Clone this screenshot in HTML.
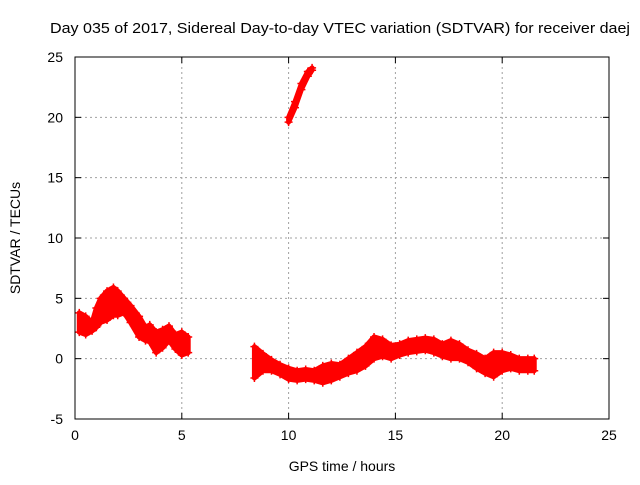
<!DOCTYPE html>
<html><head><meta charset="utf-8"><style>
body{margin:0;background:#fff}
svg text{font-family:"Liberation Sans",sans-serif;fill:#000}
</style></head><body>
<svg width="640" height="480" xmlns="http://www.w3.org/2000/svg">
<text x="340" y="33" font-size="15" text-anchor="middle" textLength="580" lengthAdjust="spacingAndGlyphs">Day 035 of 2017, Sidereal Day-to-day VTEC variation (SDTVAR) for receiver daej</text>
<text x="342" y="471" font-size="14" text-anchor="middle">GPS time / hours</text>
<text transform="translate(20,238) rotate(-90)" font-size="14" text-anchor="middle">SDTVAR / TECUs</text>
<g id="grid"></g>
<g id="axes"></g>
<g id="marks"></g>
<rect x="75" y="57" width="534" height="362" fill="none" stroke="#000" stroke-width="1"/>
</svg>
<script>
const xTicks=[0,5,10,15,20,25];
const yTicks=[-5,0,5,10,15,20,25];
const seg1T=[0.2,0.5,0.8,1.0,1.2,1.5,1.8,2.0,2.3,2.6,3.0,3.3,3.5,3.8,4.1,4.4,4.7,5.0,5.3];
const seg1Hi=[3.8,3.5,3.0,4.2,5.0,5.6,5.9,5.6,5.0,4.4,3.5,2.6,2.8,2.2,2.4,2.7,2.0,2.2,1.8];
const seg1Lo=[2.2,2.0,2.3,2.6,3.0,3.2,3.6,3.6,3.8,3.0,1.8,1.5,1.4,0.5,0.9,1.5,0.8,0.3,0.5];
const seg2T=[8.4,8.8,9.2,9.6,10.0,10.4,10.8,11.2,11.6,12.0,12.4,12.8,13.2,13.6,14.0,14.4,14.8,15.2,15.6,16.0,16.4,16.8,17.2,17.6,18.0,18.4,18.8,19.2,19.6,20.0,20.4,20.8,21.2,21.5];
const seg2Hi=[1.0,0.4,-0.1,-0.5,-0.8,-1.0,-0.9,-1.0,-0.6,-0.4,-0.5,0.0,0.5,1.0,1.8,1.6,1.1,1.2,1.5,1.6,1.7,1.6,1.2,1.5,1.2,0.7,0.4,0.0,0.5,0.5,0.3,0.0,0.0,0.0];
const seg2Lo=[-1.6,-1.0,-1.0,-1.3,-1.7,-1.8,-1.7,-1.8,-2.0,-1.8,-1.5,-1.2,-1.0,-0.6,0.0,0.2,0.0,0.3,0.5,0.6,0.7,0.5,0.2,0.0,0.0,-0.3,-0.8,-1.2,-1.5,-1.0,-0.8,-1.0,-1.0,-1.0];
const seg3T=[10.0,10.3,10.6,10.9,11.1];
const seg3Hi=[20.0,21.3,22.8,23.8,24.1];
const seg3Lo=[19.6,20.8,22.3,23.4,23.9];
const X0=75,X1=609,Y0=419,Y1=57,xMin=0,xMax=25,yMin=-5,yMax=25;
const sx=v=>X0+(v-xMin)/(xMax-xMin)*(X1-X0);
const sy=v=>Y0-(v-yMin)/(yMax-yMin)*(Y0-Y1);
const NS="http://www.w3.org/2000/svg";
function mk(tag,attrs,parent){const e=document.createElementNS(NS,tag);for(const k in attrs)e.setAttribute(k,attrs[k]);parent.appendChild(e);return e;}
const grid=document.getElementById('grid'),axes=document.getElementById('axes'),marks=document.getElementById('marks');
xTicks.forEach(t=>{
  const x=sx(t);
  if(t>xMin&&t<xMax){const g=mk('line',{x1:x,x2:x,y1:Y1,y2:Y0,stroke:'#a0a0a0','stroke-dasharray':'2,3'},grid);
  
  }
  mk('line',{x1:x,x2:x,y1:Y0,y2:Y0-6,stroke:'#000'},axes);
  mk('line',{x1:x,x2:x,y1:Y1,y2:Y1+6,stroke:'#000'},axes);
  const tx=mk('text',{x:x,y:Y0+21,'font-size':14,'text-anchor':'middle'},axes);
  tx.textContent=t;
  
  
});
yTicks.forEach(t=>{
  const y=sy(t);
  if(t>yMin&&t<yMax){const g=mk('line',{x1:X0,x2:X1,y1:y,y2:y,stroke:'#a0a0a0','stroke-dasharray':'2,3'},grid);
  
  }
  mk('line',{x1:X0,x2:X0+6,y1:y,y2:y,stroke:'#000'},axes);
  mk('line',{x1:X1,x2:X1-6,y1:y,y2:y,stroke:'#000'},axes);
  const tx=mk('text',{x:X0-12,y:y+5,'font-size':14,'text-anchor':'end'},axes);
  tx.textContent=t;
  
  
});
function band(T,Hi,Lo,name){
  const pts=T.map((t,i)=>sx(t)+','+sy(Hi[i])).concat(T.map((t,i)=>sx(t)+','+sy(Lo[i])).reverse());
  const p=mk('polygon',{points:pts.join(' '),fill:'#f00',stroke:'#f00','stroke-width':5,'stroke-linejoin':'round'},marks);
  
  
  T.forEach((t,i)=>{[Hi[i],Lo[i]].forEach(v=>{
    const x=sx(t),y=sy(v);
    const m=mk('path',{d:`M${x-4},${y}H${x+4}M${x},${y-4}V${y+4}`,stroke:'#f00','stroke-width':1.5},marks);
    
    
  });});
}
band(seg1T,seg1Hi,seg1Lo,'series-early');
band(seg2T,seg2Hi,seg2Lo,'series-late');
band(seg3T,seg3Hi,seg3Lo,'series-spike');
</script>
</body></html>
